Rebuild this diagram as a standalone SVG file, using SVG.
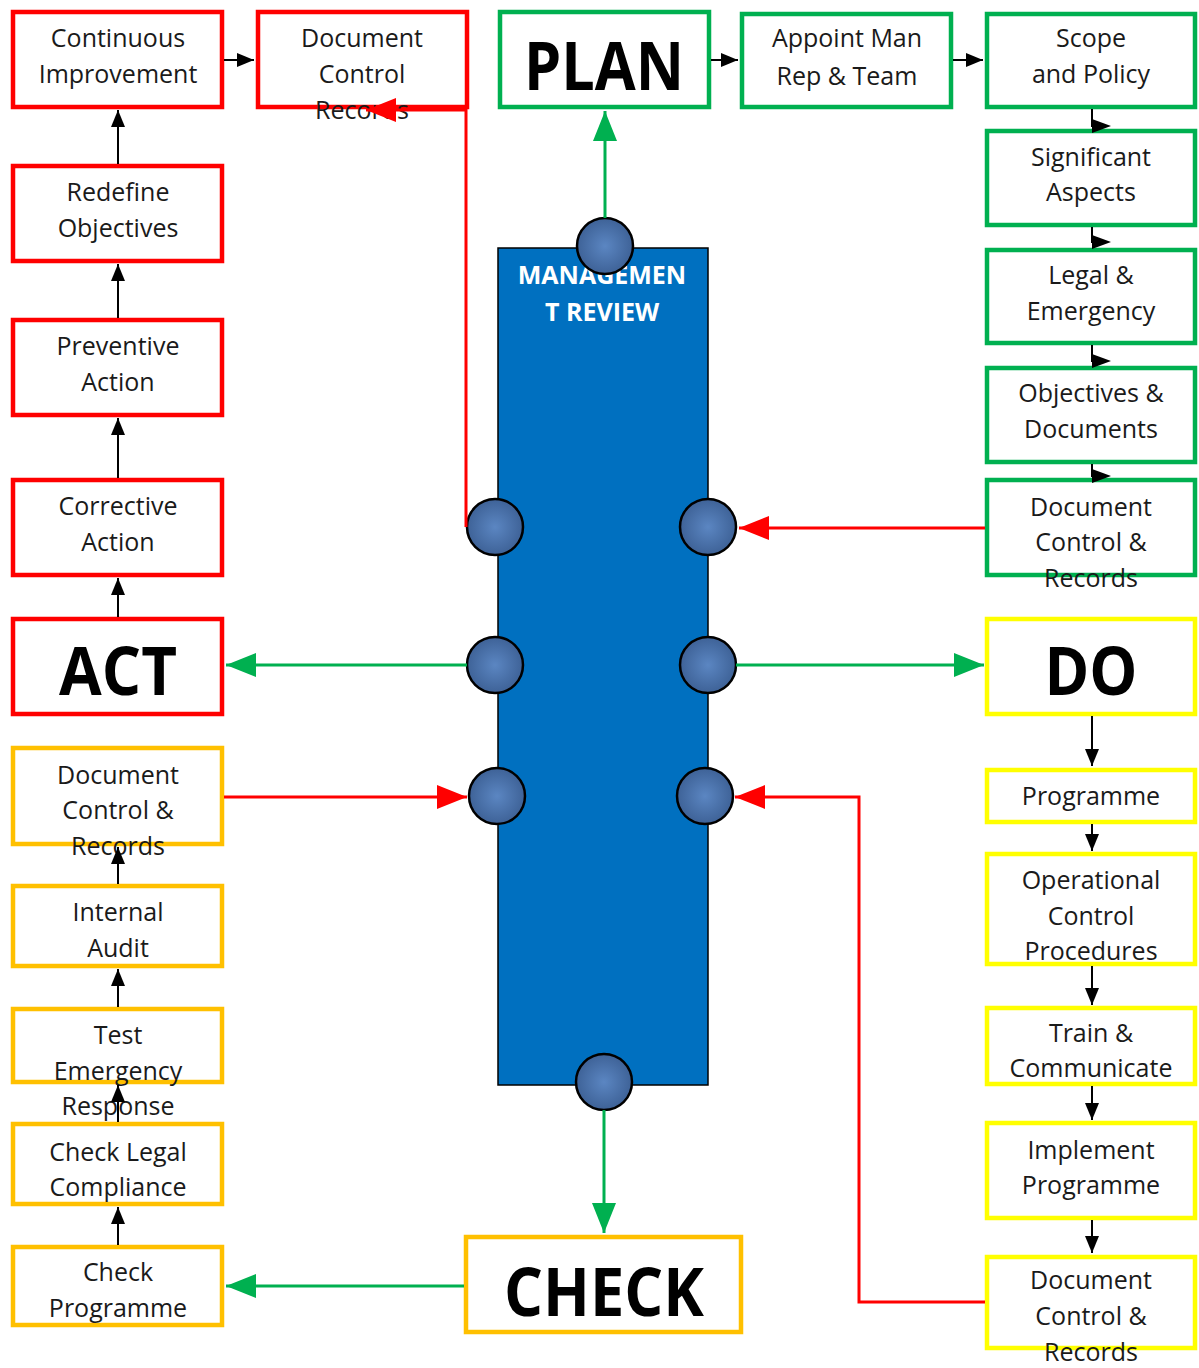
<svg xmlns="http://www.w3.org/2000/svg" width="1199" height="1368" viewBox="0 0 1199 1368">
<style>
.box{fill:#fff;stroke-width:4.5}
.r{stroke:#FF0000}.g{stroke:#00B050}.y{stroke:#FFFF00}.o{stroke:#FFC000}
.t{font-family:"Open Sans","Noto Sans",sans-serif;font-size:25px;fill:#1a1a1a;text-anchor:middle}
.big{font-family:"Open Sans","Noto Sans",sans-serif;font-weight:bold;font-size:66px;fill:#000;text-anchor:middle}
.mr{font-family:"Open Sans","Noto Sans",sans-serif;font-weight:bold;font-size:25px;fill:#fff;text-anchor:middle}
.blk{stroke:#000;stroke-width:2;fill:none}
.red{stroke:#FF0000;stroke-width:3;fill:none}
.grn{stroke:#00B050;stroke-width:3;fill:none}
.port{fill:url(#pg);stroke:#000;stroke-width:2.5}
</style>
<defs>
<radialGradient id="pg" cx="0.5" cy="0.5" r="0.5">
<stop offset="0" stop-color="#5B86C2"/>
<stop offset="1" stop-color="#3E6297"/>
</radialGradient>
<marker id="ab" markerUnits="userSpaceOnUse" markerWidth="18" markerHeight="15" refX="17" refY="7" orient="auto"><path d="M0,0 L17,7 L0,14 z" fill="#000"/></marker>
<marker id="at" markerUnits="userSpaceOnUse" markerWidth="20" markerHeight="15" refX="1" refY="7" orient="auto"><path d="M0,0 L19,7 L0,14 z" fill="#000"/></marker>
<marker id="ar" markerUnits="userSpaceOnUse" markerWidth="32" markerHeight="26" refX="30" refY="12" orient="auto"><path d="M0,0 L30,12 L0,24 z" fill="#FF0000"/></marker>
<marker id="ag" markerUnits="userSpaceOnUse" markerWidth="32" markerHeight="26" refX="30" refY="12" orient="auto"><path d="M0,0 L30,12 L0,24 z" fill="#00B050"/></marker>
</defs>
<rect width="1199" height="1368" fill="#fff"/>

<g id="management-review">
<rect x="498" y="248" width="210" height="837" fill="#0070C0" stroke="#000" stroke-width="1.5"/>
<text class="mr" x="602" y="284">MANAGEMEN</text>
<text class="mr" x="602" y="321">T REVIEW</text>
<circle class="port" cx="605" cy="246" r="28"/>
<circle class="port" cx="495" cy="527" r="28"/>
<circle class="port" cx="708" cy="527" r="28"/>
<circle class="port" cx="495" cy="665" r="28"/>
<circle class="port" cx="708" cy="665" r="28"/>
<circle class="port" cx="497" cy="796" r="28"/>
<circle class="port" cx="705" cy="796" r="28"/>
<circle class="port" cx="604" cy="1082" r="28"/>
</g>

<g id="continuous-improvement"><rect class="box r" x="13" y="12" width="209" height="95"/><text class="t" x="118" y="47">Continuous</text><text class="t" x="118" y="83">Improvement</text></g>
<g id="document-control-records-act"><rect class="box r" x="258" y="12" width="209" height="95"/><text class="t" x="362" y="47">Document</text><text class="t" x="362" y="83">Control</text><text class="t" x="362" y="119">Records</text></g>
<g id="redefine-objectives"><rect class="box r" x="13" y="166" width="209" height="95"/><text class="t" x="118" y="201">Redefine</text><text class="t" x="118" y="237">Objectives</text></g>
<g id="preventive-action"><rect class="box r" x="13" y="320" width="209" height="95"/><text class="t" x="118" y="355">Preventive</text><text class="t" x="118" y="391">Action</text></g>
<g id="corrective-action"><rect class="box r" x="13" y="480" width="209" height="95"/><text class="t" x="118" y="515">Corrective</text><text class="t" x="118" y="551">Action</text></g>
<g id="act"><rect class="box r" x="13" y="619" width="209" height="95"/><text class="big" x="118" y="695" textLength="118" lengthAdjust="spacingAndGlyphs">ACT</text></g>

<g id="document-control-check"><rect class="box o" x="13" y="748" width="209" height="96"/><text class="t" x="118" y="784">Document</text><text class="t" x="118" y="819">Control &amp;</text><text class="t" x="118" y="855">Records</text></g>
<g id="internal-audit"><rect class="box o" x="13" y="886" width="209" height="80"/><text class="t" x="118" y="921">Internal</text><text class="t" x="118" y="957">Audit</text></g>
<g id="test-emergency-response"><rect class="box o" x="13" y="1009" width="209" height="73"/><text class="t" x="118" y="1044">Test</text><text class="t" x="118" y="1080">Emergency</text><text class="t" x="118" y="1115">Response</text></g>
<g id="check-legal-compliance"><rect class="box o" x="13" y="1124" width="209" height="80"/><text class="t" x="118" y="1161">Check Legal</text><text class="t" x="118" y="1196">Compliance</text></g>
<g id="check-programme"><rect class="box o" x="13" y="1247" width="209" height="78"/><text class="t" x="118" y="1281">Check</text><text class="t" x="118" y="1317">Programme</text></g>
<g id="check"><rect class="box o" x="466" y="1237" width="275" height="95"/><text class="big" x="604" y="1316" textLength="200" lengthAdjust="spacingAndGlyphs">CHECK</text></g>

<g id="plan"><rect class="box g" x="500" y="12" width="209" height="95"/><text class="big" x="604" y="90" textLength="160" lengthAdjust="spacingAndGlyphs">PLAN</text></g>
<g id="appoint-man-rep"><rect class="box g" x="742" y="14" width="209" height="93"/><text class="t" x="847" y="47">Appoint Man</text><text class="t" x="847" y="85">Rep &amp; Team</text></g>
<g id="scope-policy"><rect class="box g" x="987" y="14" width="208" height="93"/><text class="t" x="1091" y="47">Scope</text><text class="t" x="1091" y="83">and Policy</text></g>
<g id="significant-aspects"><rect class="box g" x="987" y="131" width="208" height="94"/><text class="t" x="1091" y="166">Significant</text><text class="t" x="1091" y="201">Aspects</text></g>
<g id="legal-emergency"><rect class="box g" x="987" y="250" width="208" height="93"/><text class="t" x="1091" y="284">Legal &amp;</text><text class="t" x="1091" y="320">Emergency</text></g>
<g id="objectives-documents"><rect class="box g" x="987" y="368" width="208" height="94"/><text class="t" x="1091" y="402">Objectives &amp;</text><text class="t" x="1091" y="438">Documents</text></g>
<g id="document-control-plan"><rect class="box g" x="987" y="480" width="208" height="95"/><text class="t" x="1091" y="516">Document</text><text class="t" x="1091" y="551">Control &amp;</text><text class="t" x="1091" y="587">Records</text></g>

<g id="do"><rect class="box y" x="987" y="619" width="208" height="95"/><text class="big" x="1091" y="695" textLength="93" lengthAdjust="spacingAndGlyphs">DO</text></g>
<g id="programme"><rect class="box y" x="987" y="770" width="208" height="52"/><text class="t" x="1091" y="805">Programme</text></g>
<g id="operational-control"><rect class="box y" x="987" y="854" width="208" height="110"/><text class="t" x="1091" y="889">Operational</text><text class="t" x="1091" y="925">Control</text><text class="t" x="1091" y="960">Procedures</text></g>
<g id="train-communicate"><rect class="box y" x="987" y="1008" width="208" height="76"/><text class="t" x="1091" y="1042">Train &amp;</text><text class="t" x="1091" y="1077">Communicate</text></g>
<g id="implement-programme"><rect class="box y" x="987" y="1123" width="208" height="95"/><text class="t" x="1091" y="1159">Implement</text><text class="t" x="1091" y="1194">Programme</text></g>
<g id="document-control-do"><rect class="box y" x="987" y="1257" width="208" height="91"/><text class="t" x="1091" y="1289">Document</text><text class="t" x="1091" y="1325">Control &amp;</text><text class="t" x="1091" y="1361">Records</text></g>

<g id="connectors">
<path class="blk" d="M224,60 H254" marker-end="url(#ab)"/>
<path class="blk" d="M711,60 H738" marker-end="url(#ab)"/>
<path class="blk" d="M953,60 H983" marker-end="url(#ab)"/>
<path class="blk" d="M1092,109 V126 H1093" marker-end="url(#at)"/>
<path class="blk" d="M1092,227 V242 H1093" marker-end="url(#at)"/>
<path class="blk" d="M1092,345 V361 H1093" marker-end="url(#at)"/>
<path class="blk" d="M1092,464 V476 H1093" marker-end="url(#at)"/>
<path class="blk" d="M118,164 V110" marker-end="url(#ab)"/>
<path class="blk" d="M118,318 V264" marker-end="url(#ab)"/>
<path class="blk" d="M118,478 V418" marker-end="url(#ab)"/>
<path class="blk" d="M118,617 V578" marker-end="url(#ab)"/>
<path class="blk" d="M118,884 V847" marker-end="url(#ab)"/>
<path class="blk" d="M118,1007 V969" marker-end="url(#ab)"/>
<path class="blk" d="M118,1122 V1085" marker-end="url(#ab)"/>
<path class="blk" d="M118,1245 V1207" marker-end="url(#ab)"/>
<path class="blk" d="M1092,716 V766" marker-end="url(#ab)"/>
<path class="blk" d="M1092,824 V851" marker-end="url(#ab)"/>
<path class="blk" d="M1092,966 V1005" marker-end="url(#ab)"/>
<path class="blk" d="M1092,1086 V1120" marker-end="url(#ab)"/>
<path class="blk" d="M1092,1220 V1253" marker-end="url(#ab)"/>
<path class="red" d="M466,527 V110 H366" marker-end="url(#ar)"/>
<path class="red" d="M985,528 H739" marker-end="url(#ar)"/>
<path class="red" d="M224,797 H467" marker-end="url(#ar)"/>
<path class="red" d="M985,1302 H859 V797 H735" marker-end="url(#ar)"/>
<path class="grn" d="M605,218 V111" marker-end="url(#ag)"/>
<path class="grn" d="M604,1110 V1233" marker-end="url(#ag)"/>
<path class="grn" d="M467,665 H226" marker-end="url(#ag)"/>
<path class="grn" d="M736,665 H984" marker-end="url(#ag)"/>
<path class="grn" d="M464,1286 H226" marker-end="url(#ag)"/>
</g>
</svg>
